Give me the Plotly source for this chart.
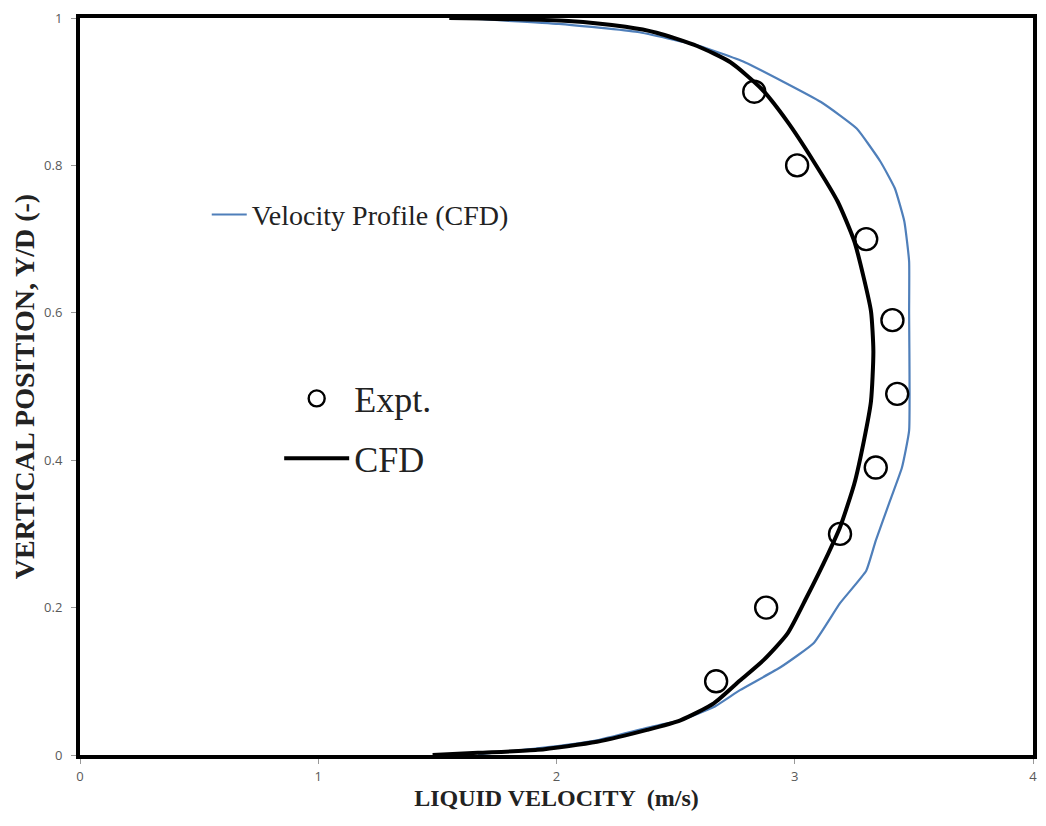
import plotly.graph_objects as go

# Velocity profile (CFD, blue) : liquid velocity (m/s) vs Y/D
vp_velocity = [1.59, 2.01, 2.34, 2.59, 2.79, 3.11, 3.26, 3.36, 3.42, 3.46, 3.48, 3.48,
               3.48, 3.45, 3.40, 3.34, 3.30, 3.19, 3.08, 2.94, 2.77, 2.66, 2.52, 2.38,
               2.17, 1.92, 1.67]
vp_position = [1.0, 0.992, 0.981, 0.963, 0.940, 0.886, 0.850, 0.805, 0.769, 0.724, 0.670, 0.602,
               0.440, 0.390, 0.345, 0.291, 0.250, 0.206, 0.152, 0.119, 0.088, 0.065, 0.047, 0.037,
               0.020, 0.009, 0.001]

# CFD profile (black)
cfd_velocity = [1.55, 2.05, 2.29, 2.42, 2.59, 2.73, 2.86, 2.97, 3.08, 3.18, 3.25, 3.29,
                3.32, 3.33, 3.32, 3.29, 3.25, 3.19, 3.14, 3.05, 2.97, 2.87, 2.77, 2.66,
                2.52, 2.38, 2.17, 1.92, 1.67, 1.48]
cfd_position = [1.0, 0.996, 0.988, 0.980, 0.962, 0.940, 0.904, 0.859, 0.805, 0.751, 0.697, 0.647,
                0.602, 0.548, 0.480, 0.426, 0.368, 0.309, 0.273, 0.214, 0.165, 0.129, 0.101, 0.070,
                0.047, 0.034, 0.018, 0.007, 0.003, 0.0]

# Experimental measurements
expt_velocity = [2.83, 3.01, 3.30, 3.41, 3.43, 3.34, 3.19, 2.88, 2.67]
expt_position = [0.90, 0.80, 0.70, 0.59, 0.49, 0.39, 0.30, 0.20, 0.10]

x_ticks = [0, 1, 2, 3, 4]
y_ticks = [0, 0.2, 0.4, 0.6, 0.8, 1]
y_tick_text = ["0", "0.2", "0.4", "0.6", "0.8", "1"]

SERIF = "Liberation Serif, Times New Roman, serif"
TICKFONT = dict(family="Open Sans, Liberation Sans, sans-serif", size=13, color="#595959")

fig = go.Figure()

fig.add_trace(go.Scatter(
    x=vp_velocity, y=vp_position, mode="lines", name="Velocity Profile (CFD)",
    line=dict(color="#4F7FBA", width=2.2, shape="spline", smoothing=0.4), legend="legend",
))
fig.add_trace(go.Scatter(
    x=cfd_velocity, y=cfd_position, mode="lines", name="CFD",
    line=dict(color="black", width=4, shape="spline", smoothing=0.6),
    legend="legend2", legendgroup="cfd", legendrank=2,
))
fig.add_trace(go.Scatter(
    x=expt_velocity, y=expt_position, mode="markers", name="Expt.",
    marker=dict(symbol="circle-open", size=22, color="black", line=dict(width=2.4, color="black")),
    legend="legend2", legendgroup="expt", legendrank=1,
))

fig.update_layout(
    width=1046, height=826,
    margin=dict(l=80, r=9, t=16, b=71),
    paper_bgcolor="white", plot_bgcolor="white",
    showlegend=True,
    legend=dict(
        x=0.133, y=0.733, xanchor="left", yanchor="middle",
        font=dict(family=SERIF, size=28, color="#222"),
        bgcolor="rgba(0,0,0,0)", itemwidth=35,
    ),
    legend2=dict(
        x=0.209, y=0.443, xanchor="left", yanchor="middle",
        font=dict(family=SERIF, size=36, color="#222"),
        bgcolor="rgba(0,0,0,0)", traceorder="grouped", itemwidth=65,
        tracegroupgap=10,
    ),
    xaxis=dict(
        range=[0, 4], tickvals=x_ticks, ticktext=[str(v) for v in x_ticks],
        showgrid=False, zeroline=False,
        showline=True, linecolor="black", linewidth=4, mirror=True,
        ticks="outside", ticklen=5, tickcolor="#999", tickwidth=1,
        ticklabelstandoff=1,
        tickfont=TICKFONT,
        title=dict(text="<b>LIQUID VELOCITY &nbsp;(m/s)</b>", font=dict(family=SERIF, size=24, color="#222"),
                   standoff=4),
    ),
    yaxis=dict(
        range=[0, 1], tickvals=y_ticks, ticktext=y_tick_text,
        showgrid=False, zeroline=False,
        showline=True, linecolor="black", linewidth=4, mirror=True,
        ticks="outside", ticklen=5, tickcolor="#999", tickwidth=1,
        ticklabelstandoff=6,
        tickfont=TICKFONT,
        title=dict(text="<b>VERTICAL POSITION, Y/D (-)</b>", font=dict(family=SERIF, size=28, color="#222"),
                   standoff=2),
    ),
)

fig.write_html("out.html")
